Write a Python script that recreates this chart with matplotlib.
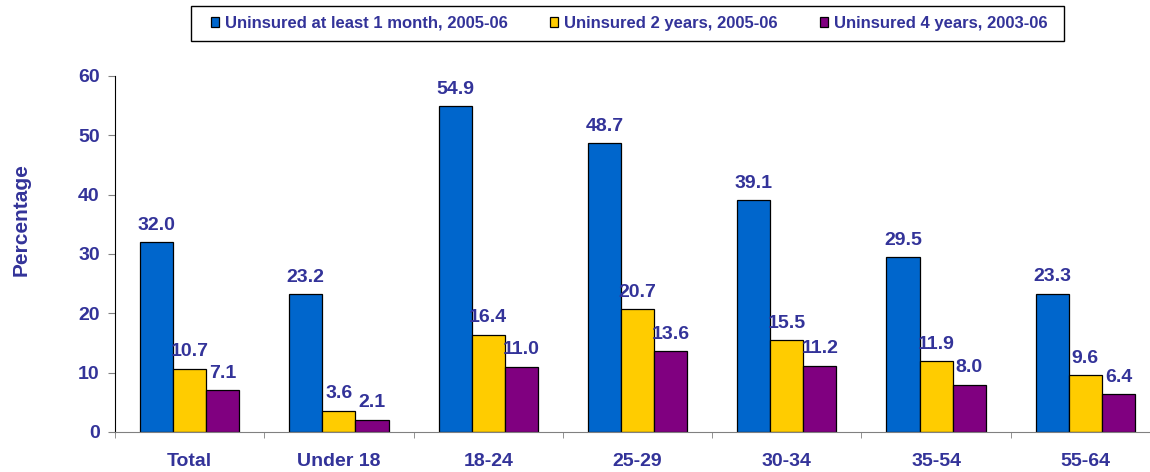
import numpy as np
import matplotlib.pyplot as plt
from matplotlib.patches import Rectangle

plt.rcParams["font.family"] = ["Liberation Sans", "DejaVu Sans"]

# Data
categories = ["Total", "Under 18", "18-24", "25-29", "30-34", "35-54", "55-64"]
series_names = [
    "Uninsured at least 1 month, 2005-06",
    "Uninsured 2 years, 2005-06",
    "Uninsured 4 years, 2003-06",
]
month_1 = [32.0, 23.2, 54.9, 48.7, 39.1, 29.5, 23.3]
years_2 = [10.7, 3.6, 16.4, 20.7, 15.5, 11.9, 9.6]
years_4 = [7.1, 2.1, 11.0, 13.6, 11.2, 8.0, 6.4]

colors = ["#0066CC", "#FFCC00", "#800080"]
text_color = "#333399"

W, H = 1150, 472
fig = plt.figure(figsize=(W / 100, H / 100), dpi=100)
ax = fig.add_axes([115 / W, 40 / H, 1045 / W, 356 / H])

x = np.arange(len(categories))
width = 0.222
for i, (vals, col, name) in enumerate(zip([month_1, years_2, years_4], colors, series_names)):
    bars = ax.bar(x + (i - 1) * width, vals, width, color=col, edgecolor="black",
                  linewidth=0.9, label=name)
    for b, v in zip(bars, vals):
        ax.annotate(f"{v:.1f}", (b.get_x() + b.get_width() / 2, v),
                    xytext=(0, 6), textcoords="offset points", ha="center", va="bottom",
                    fontsize=14, fontweight="bold", color=text_color)

ax.set_xlim(-0.5, len(categories) - 0.5)
ax.set_ylim(0, 60)
ax.set_yticks(range(0, 61, 10))
ax.set_xticks(x)
ax.set_xticklabels(categories)
ax.set_xticks(np.arange(-0.5, len(categories), 1), minor=True)

for lab in ax.get_yticklabels() + ax.get_xticklabels():
    lab.set_fontsize(14)
    lab.set_fontweight("bold")
    lab.set_color(text_color)

ax.tick_params(axis="x", which="major", length=0, pad=15)
ax.tick_params(axis="x", which="minor", length=4, color="#808080", direction="out")
ax.tick_params(axis="y", length=5, color="#808080", direction="out", pad=6)

ax.spines["top"].set_visible(False)
ax.spines["right"].set_visible(False)
ax.spines["left"].set_color("black")
ax.spines["bottom"].set_color("#808080")

fig.text(21 / W, 1 - 220 / H, "Percentage", rotation=90, ha="center", va="center",
         fontsize=15, fontweight="bold", color=text_color)

# legend with a hand-drawn frame
fig.patches.append(Rectangle((191 / W, 1 - 41 / H), (1064 - 191) / W, 35 / H,
                             transform=fig.transFigure, fill=False,
                             edgecolor="black", linewidth=1.0))
leg = fig.legend(loc="center left", bbox_to_anchor=(211 / W, 1 - 23.5 / H), ncol=3,
                 frameon=False, handlelength=0.5, handleheight=0.5,
                 handletextpad=0.36, columnspacing=2.5, borderpad=0, borderaxespad=0,
                 prop={"size": 12, "weight": "bold"})
for t in leg.get_texts():
    t.set_color(text_color)

fig.savefig("out.png", dpi=100)
